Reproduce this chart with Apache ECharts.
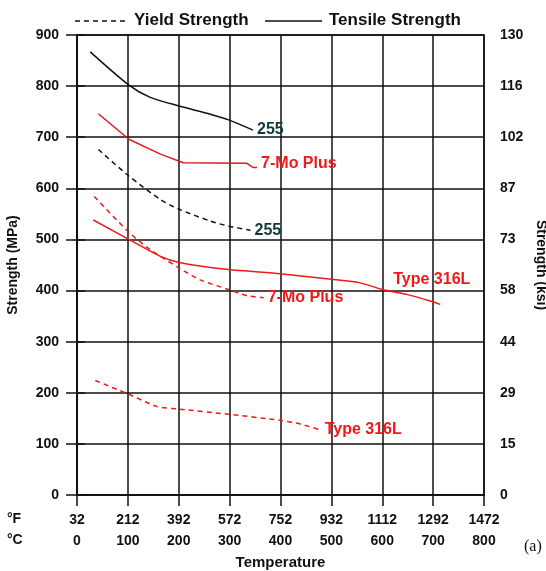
<!DOCTYPE html>
<html>
<head>
<meta charset="utf-8">
<title>Strength vs Temperature</title>
<script src="https://cdn.jsdelivr.net/npm/echarts@6/dist/echarts.min.js"></script>
<style>
  html, body { margin: 0; padding: 0; background: #fff; }
  #chart { width: 546px; height: 571px; }
</style>
</head>
<body>
<div id="chart"></div>
<script>
// temperature in degC, strength in MPa
var tensile255 = [[26,867],[102,802],[144,778],[201,761],[262,745],[298,734],[346,714]];
var tensile7Mo = [[42,746],[102,696],[164,667],[209,650],[334,649],[346,641],[354,641]];
var tensile316L = [[32,538],[102,500],[164,467],[201,455],[298,441],[399,433],[500,422],[557,415],[600,402],[650,392],[696,379],[714,373]];
var yield255 = [[42,676],[102,624],[164,578],[201,559],[262,536],[298,526],[341,518]];
var yield7Mo = [[34,584],[102,514],[144,480],[201,444],[242,421],[298,402],[334,390],[367,386]];
var yield316L = [[36,224],[102,197],[157,173],[201,168],[298,158],[400,146],[439,139],[479,127]];

var fLabels = ['32','212','392','572','752','932','1112','1292','1472'];
var cLabels = ['0','100','200','300','400','500','600','700','800'];
var ksiLabels = ['0','15','29','44','58','73','87','102','116','130'];

var font = 'Liberation Sans, Arial, sans-serif';
var ink = '#111';
var red = '#f01818';

var chart = echarts.init(document.getElementById('chart'));

function line(label, data, color, dashed, labelColor, offset, smooth) {
  return {
    name: label,
    type: 'line',
    data: data,
    symbol: 'none',
    showSymbol: false,
    silent: true,
    smooth: smooth,
    lineStyle: { color: color, width: 1.5, type: dashed ? [5, 4] : 'solid' },
    itemStyle: { color: color },
    endLabel: {
      show: true,
      formatter: label,
      distance: 4,
      offset: offset || [0, 0],
      color: labelColor,
      fontFamily: font,
      fontWeight: 'bold',
      fontSize: 16
    }
  };
}

// legend drawn by hand: dashed = yield, solid = tensile
var legendBits = [
  { type: 'line', shape: { x1: 75, y1: 21, x2: 128, y2: 21 }, style: { stroke: ink, lineWidth: 1.5, lineDash: [5, 4] } },
  { type: 'text', left: 134, top: 12, style: { text: 'Yield Strength', fill: ink, font: 'bold 17px ' + font } },
  { type: 'line', shape: { x1: 265, y1: 21, x2: 322, y2: 21 }, style: { stroke: ink, lineWidth: 1.5 } },
  { type: 'text', left: 329, top: 12, style: { text: 'Tensile Strength', fill: ink, font: 'bold 17px ' + font } }
];

var option = {
  animation: false,
  backgroundColor: '#fff',
  textStyle: { fontFamily: font },
  grid: {
    left: 77, right: 62, top: 35, bottom: 76,
    outerBoundsMode: 'none', containLabel: false,
    show: true, borderColor: ink, borderWidth: 1.5, backgroundColor: '#fff'
  },
  xAxis: [
    {
      type: 'value', min: 0, max: 800, interval: 100,
      axisLine: { show: true, lineStyle: { color: ink, width: 1.5 } },
      axisTick: { show: true, length: 11, lineStyle: { color: ink, width: 1.5 } },
      splitLine: { show: true, lineStyle: { color: ink, width: 1.5 } },
      axisLabel: {
        margin: 18, color: ink, fontWeight: 'bold', fontSize: 14, fontFamily: font,
        formatter: function (v) { return fLabels[Math.round(v / 100)]; }
      }
    },
    {
      type: 'value', min: 0, max: 800, interval: 100, position: 'bottom', offset: 21,
      axisLine: { show: false }, axisTick: { show: false }, splitLine: { show: false },
      axisLabel: {
        margin: 18, color: ink, fontWeight: 'bold', fontSize: 14, fontFamily: font,
        formatter: function (v) { return cLabels[Math.round(v / 100)]; }
      },
      name: 'Temperature', nameLocation: 'middle', nameGap: 39,
      nameTextStyle: { color: ink, fontWeight: 'bold', fontSize: 15, fontFamily: font }
    }
  ],
  yAxis: [
    {
      type: 'value', min: 0, max: 900, interval: 100, position: 'left',
      axisLine: { show: true, lineStyle: { color: ink, width: 1.5 } },
      axisTick: { show: true, length: 11, lineStyle: { color: ink, width: 1.5 } },
      splitLine: { show: true, lineStyle: { color: ink, width: 1.5 } },
      axisLabel: { margin: 18, color: ink, fontWeight: 'bold', fontSize: 14, fontFamily: font },
      name: 'Strength (MPa)', nameLocation: 'middle', nameRotate: 90, nameGap: 57,
      nameTextStyle: { color: ink, fontWeight: 'bold', fontSize: 14, fontFamily: font }
    },
    {
      type: 'value', min: 0, max: 900, interval: 100, position: 'right',
      axisLine: { show: true, lineStyle: { color: ink, width: 1.5 } },
      axisTick: { show: true, length: 8, lineStyle: { color: ink, width: 1.5 } },
      splitLine: { show: false },
      axisLabel: {
        margin: 16, color: ink, fontWeight: 'bold', fontSize: 14, fontFamily: font,
        formatter: function (v) { return ksiLabels[Math.round(v / 100)]; }
      },
      name: 'Strength (ksi)', nameLocation: 'middle', nameRotate: -90, nameGap: 48,
      nameTextStyle: { color: ink, fontWeight: 'bold', fontSize: 14, fontFamily: font }
    }
  ],
  graphic: legendBits.concat([
    { type: 'text', left: 7, top: 512, style: { text: '°F', fill: ink, font: 'bold 14px ' + font } },
    { type: 'text', left: 7, top: 533, style: { text: '°C', fill: ink, font: 'bold 14px ' + font } },
    { type: 'text', left: 524, top: 539, style: { text: '(a)', fill: ink, font: '16px Liberation Serif, serif' } }
  ]),
  series: [
    line('255', tensile255, ink, false, '#0e3a3a', null, 0.25),
    line('7-Mo Plus', tensile7Mo, '#d81e1e', false, red, [0, -4], false),
    line('255', yield255, ink, true, '#0e3a3a', null, 0.25),
    line('7-Mo Plus', yield7Mo, red, true, red, null, 0.25),
    line('Type 316L', tensile316L, red, false, red, [-51, -25], 0.2),
    line('Type 316L', yield316L, red, true, red, null, 0.2)
  ]
};

chart.setOption(option);
</script>
</body>
</html>
